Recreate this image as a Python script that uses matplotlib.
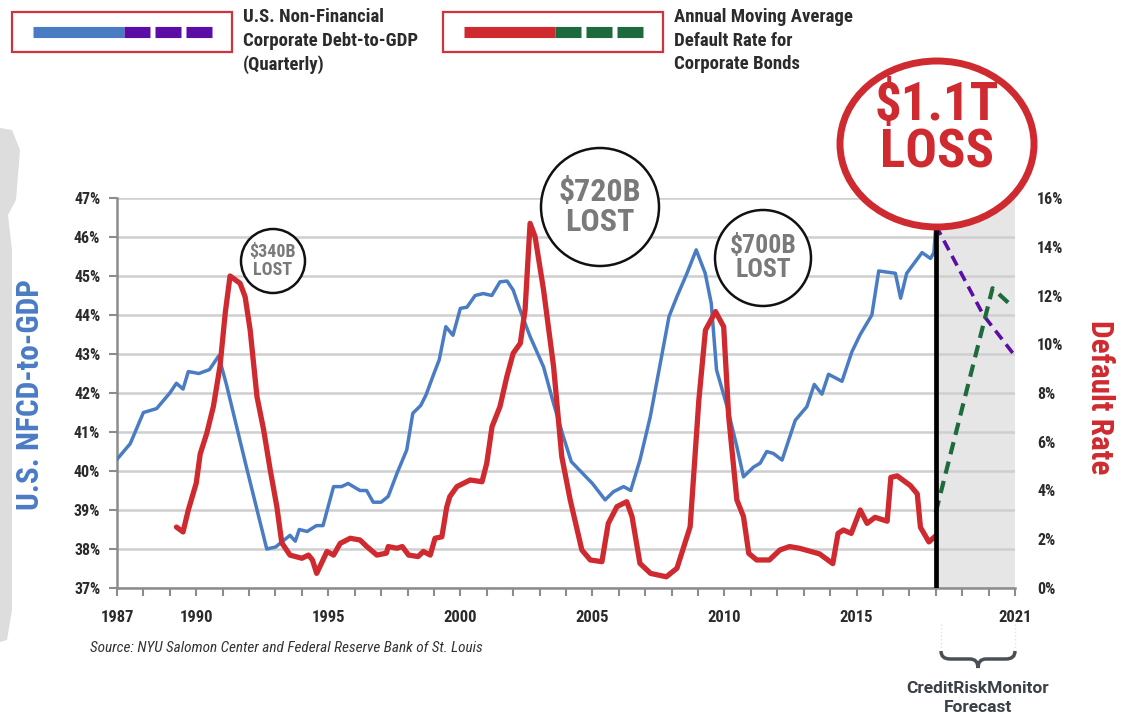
import matplotlib
matplotlib.use("Agg")
import matplotlib.pyplot as plt
from matplotlib import font_manager
from matplotlib.patches import Rectangle, Circle, Ellipse, PathPatch, Polygon
from matplotlib.path import Path
from matplotlib.ticker import FixedLocator, MultipleLocator

# ----------------------------------
# Data
# ----------------------------------
debt_years = [1987.0, 1987.5, 1988.0, 1988.5, 1989.0, 1989.25, 1989.5, 1989.7, 1990.1,
              1990.5, 1990.85, 1991.15, 1991.9, 1992.67, 1993.0, 1993.55, 1993.75, 1993.9,
              1994.2, 1994.55, 1994.8, 1995.2, 1995.5, 1995.75, 1996.2, 1996.45, 1996.7,
              1997.0, 1997.27, 1997.6, 1997.97, 1998.2, 1998.5, 1998.7, 1999.0, 1999.2,
              1999.45, 1999.72, 2000.0, 2000.25, 2000.56, 2000.87, 2001.19, 2001.5, 2001.77,
              2002.0, 2002.26, 2002.64, 2003.15, 2003.53, 2003.9, 2004.2, 2004.5, 2005.0,
              2005.48, 2005.8, 2006.18, 2006.45, 2006.8, 2007.19, 2007.57, 2007.9, 2008.2,
              2008.58, 2008.93, 2009.27, 2009.5, 2009.7, 2010.1, 2010.47, 2010.72, 2011.1,
              2011.35, 2011.6, 2011.85, 2012.18, 2012.68, 2013.12, 2013.4, 2013.69, 2013.94,
              2014.45, 2014.82, 2015.14, 2015.58, 2015.84, 2016.47, 2016.67, 2016.9, 2017.48,
              2017.8, 2017.93, 2018.0]
debt_vals = [40.3, 40.7, 41.5, 41.6, 42.0, 42.25, 42.1, 42.55, 42.5,
             42.6, 42.95, 42.2, 40.1, 38.0, 38.05, 38.35, 38.2, 38.5,
             38.45, 38.6, 38.6, 39.6, 39.6, 39.68, 39.5, 39.5, 39.2,
             39.2, 39.35, 39.94, 40.54, 41.48, 41.68, 41.95, 42.5, 42.85,
             43.7, 43.48, 44.17, 44.2, 44.5, 44.55, 44.5, 44.85, 44.87,
             44.64, 44.13, 43.45, 42.67, 41.73, 40.88, 40.24, 40.03, 39.68,
             39.26, 39.47, 39.6, 39.5, 40.28, 41.39, 42.76, 43.96, 44.47,
             45.07, 45.67, 45.07, 44.3, 42.59, 41.65, 40.62, 39.85, 40.1,
             40.2, 40.5, 40.45, 40.28, 41.3, 41.65, 42.22, 41.97, 42.48,
             42.3, 43.05, 43.5, 44.0, 45.13, 45.07, 44.43, 45.07, 45.6,
             45.45, 45.6, 46.3]

debt_fc_years = [2018.0, 2019.8, 2021.0]
debt_fc_vals = [46.3, 44.0, 42.95]

default_years = [1989.25, 1989.5, 1989.7, 1990.0, 1990.15, 1990.4, 1990.65, 1990.9, 1991.1,
                 1991.28, 1991.66, 1991.85, 1992.04, 1992.3, 1992.55, 1992.8, 1993.05, 1993.24,
                 1993.55, 1994.0, 1994.25, 1994.4, 1994.56, 1994.8, 1994.95, 1995.2, 1995.45,
                 1995.83, 1996.2, 1996.46, 1996.84, 1997.2, 1997.27, 1997.6, 1997.8, 1998.04,
                 1998.4, 1998.6, 1998.86, 1999.04, 1999.3, 1999.48, 1999.6, 1999.87, 2000.37,
                 2000.82, 2001.0, 2001.2, 2001.5, 2001.76, 2002.0, 2002.27, 2002.45, 2002.64,
                 2002.83, 2003.15, 2003.53, 2003.84, 2004.16, 2004.6, 2004.92, 2005.36, 2005.6,
                 2005.93, 2006.3, 2006.5, 2006.8, 2007.2, 2007.8, 2008.2, 2008.7, 2009.03,
                 2009.28, 2009.66, 2009.97, 2010.16, 2010.47, 2010.72, 2010.92, 2011.22, 2011.7,
                 2012.1, 2012.46, 2012.84, 2013.6, 2014.1, 2014.3, 2014.5, 2014.8, 2015.14,
                 2015.4, 2015.7, 2016.16, 2016.3, 2016.54, 2017.04, 2017.3, 2017.42, 2017.74,
                 2018.0]
default_vals = [2.5, 2.3, 3.2, 4.3, 5.5, 6.35, 7.45, 9.1, 11.3,
                12.8, 12.5, 11.95, 10.6, 7.85, 6.5, 4.85, 3.35, 1.85,
                1.35, 1.22, 1.35, 1.15, 0.6, 1.15, 1.5, 1.35, 1.83,
                2.04, 1.97, 1.7, 1.35, 1.43, 1.7, 1.63, 1.7, 1.35,
                1.29, 1.5, 1.35, 2.04, 2.1, 3.3, 3.75, 4.16, 4.43,
                4.36, 5.12, 6.62, 7.44, 8.67, 9.63, 10.04, 11.4, 14.96,
                14.41, 12.23, 9.08, 5.39, 3.61, 1.56, 1.15, 1.08, 2.65,
                3.34, 3.54, 2.93, 1.01, 0.6, 0.46, 0.81, 2.51, 7.71,
                10.58, 11.34, 10.72, 7.03, 3.61, 2.93, 1.42, 1.15, 1.15,
                1.56, 1.7, 1.63, 1.4, 1.0, 2.24, 2.38, 2.24, 3.2,
                2.65, 2.9, 2.74, 4.54, 4.6, 4.2, 3.86, 2.49, 1.89,
                2.14]

default_fc_years = [2018.0, 2020.15, 2020.9]
default_fc_vals = [3.1, 12.3, 11.55]

year_labels = [1987, 1990, 1995, 2000, 2005, 2010, 2015, 2021]
left_ticks = list(range(37, 48))
right_ticks = list(range(0, 17, 2))
forecast_start = 2018

losses = [("$340B\nLOST", 273, 261, 32, 13),
          ("$720B\nLOST", 600, 207, 59, 23),
          ("$700B\nLOST", 763, 258, 48, 18.5)]

# ----------------------------------
# Style
# ----------------------------------
names = {f.name for f in font_manager.fontManager.ttflist}
cond = next((n for n in ["Roboto Condensed", "Liberation Sans Narrow"] if n in names), "Roboto")
plt.rcParams["font.family"] = [cond, "DejaVu Sans"]

BLUE = "#4a7cc4"
RED = "#cf2a30"
PURPLE = "#5b0ea6"
GREEN = "#1d6a3c"
DARK = "#2b2b2b"
GREYTXT = "#7a7a7a"
SPINE = "#8c8c8c"

W, H = 1128, 718
fig = plt.figure(figsize=(W / 100, H / 100), dpi=100)

ax = fig.add_axes([117 / W, 130 / H, 898 / W, 390 / H])
ax.set_xlim(1987, 2021)
ax.set_ylim(37, 47)
ax.axvspan(forecast_start, 2021, color="#e6e6e6", lw=0, zorder=0)
ax.yaxis.grid(True, color="#cfcfcf", lw=1.8)
ax.set_axisbelow(True)

for s in ["top", "right"]:
    ax.spines[s].set_visible(False)
for s in ["left", "bottom"]:
    ax.spines[s].set_color(SPINE)
    ax.spines[s].set_linewidth(1.8)

ax.xaxis.set_major_locator(FixedLocator(year_labels))
ax.xaxis.set_minor_locator(MultipleLocator(1))
ax.set_xticklabels([str(y) for y in year_labels])
ax.yaxis.set_major_locator(FixedLocator(left_ticks))
ax.set_yticklabels([f"{v}%" for v in left_ticks])
ax.tick_params(axis="both", which="both", direction="out", length=6, width=1.5,
               color=SPINE, labelcolor=DARK, labelsize=11.5)
ax.tick_params(axis="x", labelsize=12, pad=10)
ax.tick_params(axis="y", pad=6)
for lab in ax.get_xticklabels() + ax.get_yticklabels():
    lab.set_fontweight("bold")

ax.plot(debt_years, debt_vals, color=BLUE, lw=2.5, solid_joinstyle="round", zorder=3)
ax.plot(debt_fc_years, debt_fc_vals, color=PURPLE, lw=2.6, dashes=(3, 1.8), zorder=3)

ax2 = ax.twinx()
ax2.set_ylim(0, 16)
for s in ax2.spines.values():
    s.set_visible(False)
ax2.yaxis.set_major_locator(FixedLocator(right_ticks))
ax2.set_yticklabels([f"{v}%" for v in right_ticks])
ax2.tick_params(axis="y", length=0, pad=16, labelcolor=DARK, labelsize=11.5)
for lab in ax2.get_yticklabels():
    lab.set_fontweight("bold")

ax2.plot(default_years, default_vals, color=RED, lw=3.8, solid_joinstyle="round",
         solid_capstyle="round", zorder=3)
ax2.plot(default_fc_years, default_fc_vals, color=GREEN, lw=3, dashes=(3, 1.8), zorder=3)
ax2.axvline(forecast_start, color="black", lw=3.4, zorder=5)

# axis titles
fig.text(30 / W, 1 - 395 / H, "U.S. NFCD-to-GDP", rotation=90, color=BLUE,
         fontsize=22.5, fontweight="bold", ha="center", va="center")
fig.text(1100 / W, 1 - 397 / H, "Default Rate", rotation=270, color=RED,
         fontsize=22.5, fontweight="bold", ha="center", va="center")

# ----------------------------------
# Overlay in pixel coordinates
# ----------------------------------
ov = fig.add_axes([0, 0, 1, 1], zorder=10)
ov.set_xlim(0, W)
ov.set_ylim(H, 0)
ov.axis("off")
ov.patch.set_alpha(0)

# grey slide edge on the left
ov.add_patch(Polygon([(0, 128), (12, 130), (20, 150), (16, 200), (8, 215), (12, 250),
                      (12, 610), (7, 640), (0, 642)], closed=True, fc="#dddddd", ec="none"))

# legend boxes
def legend_box(x, solid_col, dash_col, text):
    ov.add_patch(Rectangle((x, 12), 220, 40, fill=False, ec="#d0343a", lw=1.6))
    ov.plot([x + 21, x + 112], [32, 32], color=solid_col, lw=8, solid_capstyle="butt")
    for dx in (112, 143, 174):
        ov.plot([x + dx, x + dx + 26], [32, 32], color=dash_col, lw=8, solid_capstyle="butt")
    ov.text(x + 231, 8, text, color=DARK, fontsize=13.5, fontweight="bold",
            ha="left", va="top", linespacing=1.4)

legend_box(12, BLUE, PURPLE, "U.S. Non-Financial\nCorporate Debt-to-GDP\n(Quarterly)")
legend_box(443, RED, GREEN, "Annual Moving Average\nDefault Rate for\nCorporate Bonds")

# loss bubbles
for label, cx, cy, r, fs in losses:
    ov.add_patch(Circle((cx, cy), r, fc="white", ec="#111111", lw=1.8))
    ov.text(cx, cy, label, color=GREYTXT, fontsize=fs, fontweight="bold",
            ha="center", va="center", linespacing=1.0)

ov.add_patch(Ellipse((937, 144), 194, 166, fc="white", ec=RED, lw=5))
ov.text(937, 129, "$1.1T\nLOSS", color=RED, fontsize=38, fontweight="bold",
        ha="center", va="center", linespacing=0.92)

# source
ov.text(90, 648, "Source: NYU Salomon Center and Federal Reserve Bank of St. Louis",
        color="#333333", fontsize=11, fontstyle="italic", ha="left", va="center")

# forecast brace
for x in (941, 1015):
    ov.plot([x, x], [624, 650], color="#e2e2e2", lw=1, ls=":")
verts = [(941, 651), (941, 659), (950, 659), (970, 659), (978, 659), (978, 668),
         (978, 659), (986, 659), (1006, 659), (1015, 659), (1015, 651)]
codes = [Path.MOVETO, Path.CURVE3, Path.CURVE3, Path.LINETO, Path.CURVE3, Path.CURVE3,
         Path.CURVE3, Path.CURVE3, Path.LINETO, Path.CURVE3, Path.CURVE3]
ov.add_patch(PathPatch(Path(verts, codes), fill=False, ec="#4a4f55", lw=2.5))
ov.text(978, 681, "CreditRiskMonitor\nForecast", color="#3b4047", fontsize=12.5,
        fontweight="bold", family=["Roboto", "DejaVu Sans"], ha="center", va="top",
        linespacing=1.3)

fig.savefig("out.png", dpi=100)
